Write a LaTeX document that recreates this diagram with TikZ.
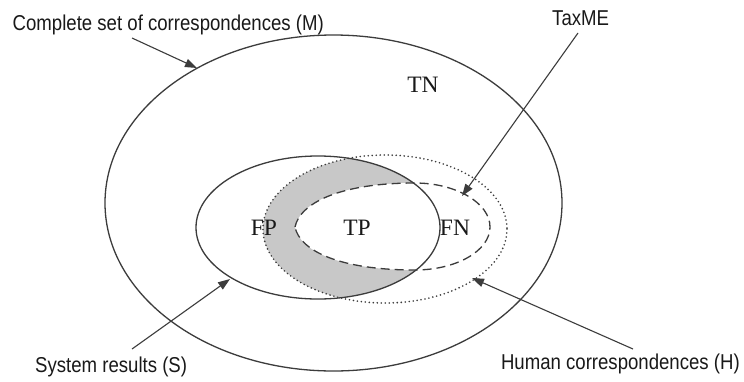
\documentclass[tikz,border=0pt]{standalone}
\usepackage{fontspec}
\setmainfont{Liberation Serif}
\newfontfamily\lblsans[FakeStretch=0.865]{Liberation Sans}
\usetikzlibrary{arrows.meta}
\definecolor{linec}{RGB}{60,60,60}
\definecolor{crescentgray}{RGB}{200,200,200}
\tikzset{
  setline/.style={draw=linec, line width=1.3pt},
  dotline/.style={draw=linec, line width=1.8pt, line cap=round, dash pattern=on 0pt off 4pt},
  dashline/.style={draw=linec, line width=1.3pt, dash pattern=on 9pt off 5pt},
  callout/.style={draw=linec, line width=1.1pt, -{Triangle[length=12pt,width=8.5pt]}},
  sanslbl/.style={inner sep=0pt, font=\lblsans\fontsize{21.5}{24}\selectfont, text=black!90},
  seriflbl/.style={inner sep=0pt, font=\fontsize{23.5}{26}\selectfont, text=black!90}
}
\begin{document}
\begin{tikzpicture}[x=1pt,y=-1pt]
\useasboundingbox (0,0) rectangle (744,381);
\fill[white] (0,0) rectangle (744,381);
% gray region: S and H, outside TaxME
\begin{scope}
  \clip (318,227.5) ellipse [x radius=122, y radius=71.5];
  \clip (385,229) ellipse [x radius=122, y radius=74];
  \fill[crescentgray] (0,0) rectangle (744,381);
\end{scope}
\fill[white] (295,227) .. controls (300,203) and (340,183) .. (415,183)
  .. controls (456,183) and (490,203) .. (490,227)
  .. controls (490,251) and (456,270) .. (415,270)
  .. controls (340,270) and (300,251) .. (295,227) -- cycle;
% set outlines
\draw[setline] (333.5,203) ellipse [x radius=228.5, y radius=168];
\draw[setline] (318,227.5) ellipse [x radius=122, y radius=71.5];
\draw[dotline] (385,229) ellipse [x radius=122, y radius=74];
\draw[dashline] (295,227) .. controls (300,203) and (340,183) .. (415,183)
  .. controls (456,183) and (490,203) .. (490,227)
  .. controls (490,251) and (456,270) .. (415,270)
  .. controls (340,270) and (300,251) .. (295,227) -- cycle;
% region labels
\node[seriflbl] (tn) at (423,85) {TN};
\node[seriflbl] (fp) at (264,228) {FP};
\node[seriflbl] (tp) at (357,228) {TP};
\node[seriflbl] (fn) at (455,228) {FN};
% callout labels
\node[sanslbl, anchor=base west] (mlbl) at (12.5,30) {Complete set of correspondences (M)};
\node[sanslbl, anchor=base west] (tlbl) at (552,25) {TaxME};
\node[sanslbl, anchor=base west] (slbl) at (35,372) {System results (S)};
\node[sanslbl, anchor=base east] (hlbl) at (740,369) {Human correspondences (H)};
% callout lines
\coordinate (ms) at (132,38);   \coordinate (mt) at (197,68);
\coordinate (ts) at (578,33);   \coordinate (tt) at (462,196);
\coordinate (ss) at (132,349);  \coordinate (st) at (230,279);
\coordinate (hs) at (633,349);  \coordinate (ht) at (472,278);
\draw[callout] (ms) -- (mt);
\draw[callout] (ts) -- (tt);
\draw[callout] (ss) -- (st);
\draw[callout] (hs) -- (ht);
\end{tikzpicture}
\end{document}
